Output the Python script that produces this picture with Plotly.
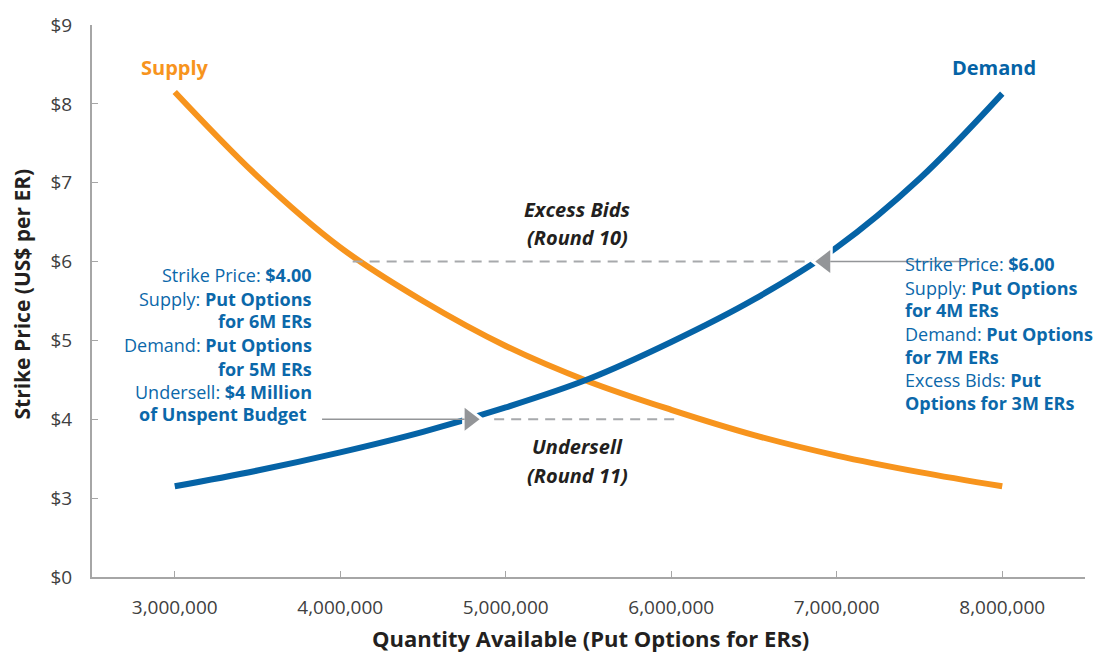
import plotly.graph_objects as go

# ---------------- data ----------------
quantity = [3000000, 3500000, 4000000, 4500000, 5000000, 5500000,
            6000000, 6500000, 7000000, 7500000, 8000000]
supply_price = [8.15, 7.08, 6.18, 5.50, 4.93, 4.48, 4.12, 3.80, 3.54, 3.33, 3.15]
demand_price = [3.15, 3.35, 3.58, 3.84, 4.15, 4.51, 4.98, 5.52, 6.18, 7.05, 8.13]

# y-axis is broken: bottom tick labelled $0 sits where 2 would be
y_tickvals = [2, 3, 4, 5, 6, 7, 8, 9]
y_ticktext = ["$0", "$3", "$4", "$5", "$6", "$7", "$8", "$9"]
x_tickvals = [3000000, 4000000, 5000000, 6000000, 7000000, 8000000]

# reference lines (strike price, start quantity, end quantity)
undersell_price = 4.0
undersell_q = [4930000, 6050000]
excess_price = 6.0
excess_q = [4075000, 6860000]

# arrow tips and leader line ends
left_arrow_tip_q = 4842000
left_leader_start_q = 3890000
right_arrow_tip_q = 6870000
right_leader_end_q = 7865000

BLUE = "#0563a6"
ORANGE = "#f7941d"
TEXT_BLUE = "#0b68aa"
GRAY = "#939598"
DASH_GRAY = "#a7a9ac"
AXIS_GRAY = "#a6a6a6"
DARK = "#231f20"
FONT = "Open Sans"

W, H = 1106, 656
L, R, T, B = 92, 21, 22, 79
XR = [2500000, 8500000]
YR = [2, 9]
plot_w = W - L - R
units_per_px = (XR[1] - XR[0]) / plot_w

ARROW_SIZE = 20
WHITE_SIZE = 30
r = ARROW_SIZE / 2

fig = go.Figure()

fig.add_trace(go.Scatter(x=quantity, y=supply_price, mode="lines",
                         line=dict(color=ORANGE, width=6, shape="spline", smoothing=1.0),
                         hoverinfo="skip", showlegend=False))
fig.add_trace(go.Scatter(x=quantity, y=demand_price, mode="lines",
                         line=dict(color=BLUE, width=6, shape="spline", smoothing=1.0),
                         hoverinfo="skip", showlegend=False))

# dashed reference lines
fig.add_trace(go.Scatter(x=excess_q, y=[excess_price] * 2, mode="lines",
                         line=dict(color=DASH_GRAY, width=2, dash="10px,7px"),
                         hoverinfo="skip", showlegend=False))
fig.add_trace(go.Scatter(x=undersell_q, y=[undersell_price] * 2, mode="lines",
                         line=dict(color=DASH_GRAY, width=2, dash="10px,7px"),
                         hoverinfo="skip", showlegend=False))

left_center = left_arrow_tip_q - r * units_per_px
right_center = right_arrow_tip_q + r * units_per_px

# white halos behind arrow heads
fig.add_trace(go.Scatter(x=[left_center], y=[undersell_price], mode="markers",
                         marker=dict(symbol="triangle-right", size=WHITE_SIZE, color="white"),
                         hoverinfo="skip", showlegend=False))
fig.add_trace(go.Scatter(x=[right_center], y=[excess_price], mode="markers",
                         marker=dict(symbol="triangle-left", size=WHITE_SIZE, color="white"),
                         hoverinfo="skip", showlegend=False))
# arrow heads
fig.add_trace(go.Scatter(x=[left_center], y=[undersell_price], mode="markers",
                         marker=dict(symbol="triangle-right", size=ARROW_SIZE, color=GRAY),
                         hoverinfo="skip", showlegend=False))
fig.add_trace(go.Scatter(x=[right_center], y=[excess_price], mode="markers",
                         marker=dict(symbol="triangle-left", size=ARROW_SIZE, color=GRAY),
                         hoverinfo="skip", showlegend=False))
# leader lines
fig.add_trace(go.Scatter(x=[left_leader_start_q, left_center - r / 2 * units_per_px],
                         y=[undersell_price] * 2, mode="lines",
                         line=dict(color=GRAY, width=1.5),
                         hoverinfo="skip", showlegend=False))
fig.add_trace(go.Scatter(x=[right_center + r / 2 * units_per_px, right_leader_end_q],
                         y=[excess_price] * 2, mode="lines",
                         line=dict(color=GRAY, width=1.5),
                         hoverinfo="skip", showlegend=False))


def pxx(X):
    return (X - L) / plot_w


def pxy(Y):
    return (H - B - Y) / (H - T - B)


annotations = []


def add_text(text, X, Y, size, color, xanchor="center", **kw):
    annotations.append(dict(text=text, x=pxx(X), y=pxy(Y), xref="paper", yref="paper",
                            xanchor=xanchor, yanchor="middle", showarrow=False,
                            font=dict(family=FONT, size=size, color=color), **kw))


add_text("<b>Supply</b>", 139, 65, 20, ORANGE, xanchor="left")
add_text("<b>Demand</b>", 1038, 65, 20, BLUE, xanchor="right")

add_text("<b><i>Excess Bids</i></b>", 577, 207, 20, DARK)
add_text("<b><i>(Round 10)</i></b>", 577, 236, 20, DARK)
add_text("<b><i>Undersell</i></b>", 577, 446, 20, DARK)
add_text("<b><i>(Round 11)</i></b>", 577, 475, 20, DARK)

left_lines = [
    ("Strike Price: <b>$4.00</b>", 273, 314),
    ("Supply: <b>Put Options</b>", 297, 314),
    ("<b>for 6M ERs</b>", 320, 314),
    ("Demand: <b>Put Options</b>", 344, 314),
    ("<b>for 5M ERs</b>", 368, 314),
    ("Undersell: <b>$4 Million</b>", 391, 314),
    ("<b>of Unspent Budget</b>", 413, 309),
]
for t, y, xr in left_lines:
    add_text(t, xr, y, 18, TEXT_BLUE, xanchor="right")

right_lines = [
    "Strike Price: <b>$6.00</b>",
    "Supply: <b>Put Options</b>",
    "<b>for 4M ERs</b>",
    "Demand: <b>Put Options</b>",
    "<b>for 7M ERs</b>",
    "Excess Bids: <b>Put</b>",
    "<b>Options for 3M ERs</b>",
]
right_ys = [262, 286, 309, 333, 356, 379, 402]
for t, y in zip(right_lines, right_ys):
    add_text(t, 903, y, 18, TEXT_BLUE, xanchor="left")

# axis titles
add_text("<b>Strike Price (US$ per ER)</b>", 22, 293, 21, DARK, textangle=-90)
add_text("<b>Quantity Available (Put Options for ERs)</b>", 590, 638, 22, DARK)

fig.update_layout(
    width=W, height=H,
    margin=dict(l=L, r=R, t=T, b=B),
    paper_bgcolor="white", plot_bgcolor="white",
    showlegend=False,
    annotations=annotations,
    xaxis=dict(range=XR, tickvals=x_tickvals, tickformat=",d",
               showgrid=False, zeroline=False,
               showline=True, linecolor=AXIS_GRAY, linewidth=2,
               ticks="inside", ticklen=6, tickcolor=AXIS_GRAY, tickwidth=1,
               tickfont=dict(family=FONT, size=19, color="#404040"),
               ticklabelstandoff=12),
    yaxis=dict(range=YR, tickvals=y_tickvals, ticktext=y_ticktext,
               showgrid=False, zeroline=False,
               showline=True, linecolor=AXIS_GRAY, linewidth=2,
               ticks="inside", ticklen=6, tickcolor=AXIS_GRAY, tickwidth=1,
               tickfont=dict(family=FONT, size=19, color="#404040"),
               ticklabelstandoff=14),
)

fig.write_html("out.html")
